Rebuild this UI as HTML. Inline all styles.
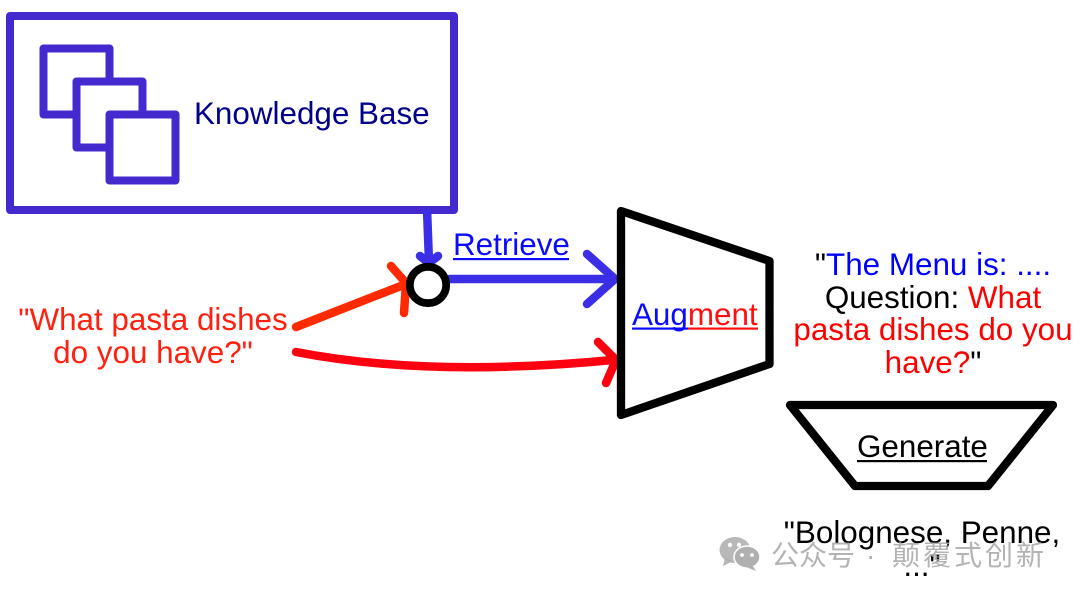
<!DOCTYPE html>
<html>
<head>
<meta charset="utf-8">
<style>
html,body{margin:0;padding:0;background:#fff;width:1080px;height:598px;overflow:hidden}
svg{display:block;filter:blur(.3px)}
text{font-family:"Liberation Sans",sans-serif;font-size:31.4px}
.cjk{font-family:"Liberation Sans","Noto Sans CJK SC",sans-serif;font-size:28px;font-weight:400;fill:#a6a6a6;fill-opacity:.85}
</style>
</head>
<body>
<svg width="1080" height="598" viewBox="0 0 1080 598" xmlns="http://www.w3.org/2000/svg">
<g fill="#fff" stroke="#4429cf" stroke-width="8" stroke-linejoin="round">
<rect x="10" y="16" width="444" height="194"/>
<rect x="43.500" y="48.500" width="66" height="66"/>
<rect x="76.500" y="81.500" width="66" height="66"/>
<rect x="109.500" y="114.500" width="66" height="66"/>
</g>
<text x="194" y="124" fill="#00008b">Knowledge Base</text>

<g fill="none" stroke="#3a2fe6" stroke-width="8.500" stroke-linecap="round" stroke-linejoin="round">
<path d="M427 209 L429 262" stroke-linecap="butt"/>
<path d="M420 256 L429 263 L438 256"/>
<path d="M450 279 L613 279"/>
<path d="M587 254 L615 279 L587 304"/>
</g>

<g fill="none" stroke="#ff2a00" stroke-width="8.500" stroke-linecap="round" stroke-linejoin="round">
<path d="M296 327 L406 284"/>
<path d="M391 266 L406 283 L404 313" />
</g>
<g fill="none" stroke="#ff0010" stroke-width="8.500" stroke-linecap="round" stroke-linejoin="round">
<path d="M296 352 Q 430 378 618 359.500"/>
<path d="M598 342 L616 360 L606 383"/>
</g>

<circle cx="428" cy="285" r="18.200" fill="#fff" stroke="#000" stroke-width="7.800"/>

<path d="M621 211 L769.500 261 L769.500 364 L621 415 Z" fill="none" stroke="#000" stroke-width="8.300" stroke-linejoin="round"/>
<path d="M790 405 H1053 L988 486 H855 Z" fill="none" stroke="#000" stroke-width="8.300" stroke-linejoin="round"/>

<text x="453" y="255" fill="#0a0aff">Retrieve</text>
<rect x="453" y="258" width="116" height="2.200" fill="#0a0aff"/>

<text x="632" y="325" fill="#0a0aff"><tspan fill="#0a0aff">Aug</tspan><tspan fill="#ff1010">ment</tspan></text>
<rect x="632" y="327.500" width="56" height="2.200" fill="#0a0aff"/>
<rect x="688" y="327.500" width="70" height="2.200" fill="#ff1010"/>

<text x="857" y="457" fill="#000">Generate</text>
<rect x="857" y="460" width="130" height="2.200" fill="#000"/>

<text x="153" y="330" text-anchor="middle" fill="#ff2010">"What pasta dishes</text>
<text x="153" y="363" text-anchor="middle" fill="#ff2010">do you have?"</text>

<text x="933" y="275" text-anchor="middle" fill="#0000ff"><tspan fill="#000">"</tspan>The Menu is: ....</text>
<text x="933" y="308" text-anchor="middle" fill="#000">Question: <tspan fill="#ff0000">What</tspan></text>
<text x="933" y="340" text-anchor="middle" fill="#ff0000">pasta dishes do you</text>
<text x="933" y="373" text-anchor="middle" fill="#ff0000">have?<tspan fill="#000">"</tspan></text>

<text x="922" y="543" text-anchor="middle" fill="#000">"Bolognese, Penne,</text>
<text x="922" y="576" text-anchor="middle" fill="#000">..."</text>

<g fill="#b0b0b0" fill-opacity=".9">
<ellipse cx="735" cy="550" rx="15.500" ry="13"/>
<path d="M725 558 L723 566 L733 561 Z"/>
</g>
<g fill="#b0b0b0" stroke="#fff" stroke-width="1.500">
<ellipse cx="747" cy="557" rx="13" ry="11"/>
</g>
<path d="M752 565 L756 571 L746 567 Z" fill="#b0b0b0"/>
<g fill="#fff">
<circle cx="730" cy="545" r="2.200"/><circle cx="739" cy="545" r="2.200"/>
<circle cx="742" cy="555" r="1.900"/><circle cx="752" cy="555" r="1.900"/>
</g>
<text class="cjk" x="771" y="565">公众号</text>
<text class="cjk" x="866" y="565">·</text>
<text class="cjk" x="892" y="565" letter-spacing="3">颠覆式创新</text>
</svg>
</body>
</html>
